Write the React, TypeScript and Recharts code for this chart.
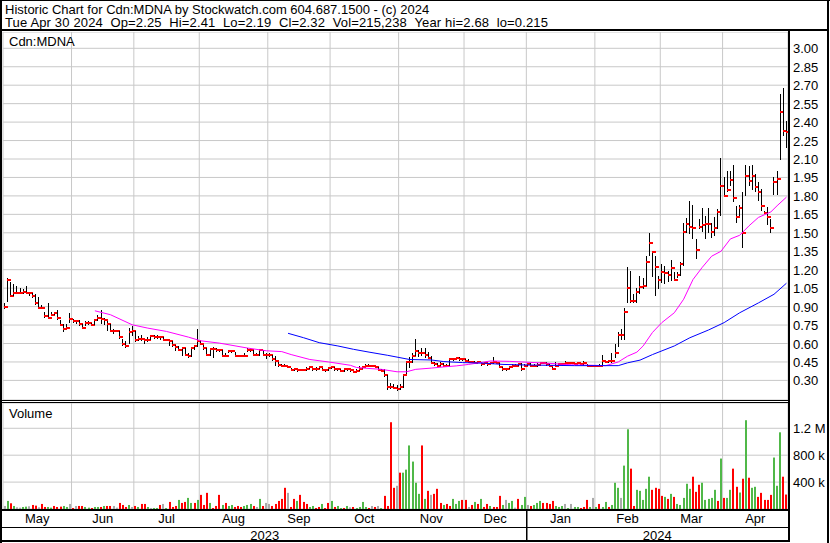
import React from 'react';
import { ComposedChart, Bar, Line, XAxis, YAxis, CartesianGrid } from 'recharts';

const FONT = "'Liberation Sans', Arial, Helvetica, sans-serif";

// ---------- categories / labels ----------
const monthNames = ['May', 'Jun', 'Jul', 'Aug', 'Sep', 'Oct', 'Nov', 'Dec', 'Jan', 'Feb', 'Mar', 'Apr'];
const monthDays = [22, 20, 21, 22, 20, 22, 21, 20, 22, 21, 20, 21];
const yearNames = ['2023', '2024'];
const yearMonthCounts = [8, 4];

const priceTicks = [0.3, 0.45, 0.6, 0.75, 0.9, 1.05, 1.2, 1.35, 1.5, 1.65, 1.8, 1.95, 2.1, 2.25, 2.4, 2.55, 2.7, 2.85, 3.0];
const volumeTicks = [400, 800, 1200];
const volumeTickLabels = ['400 k', '800 k', '1.2 M'];

// ---------- daily series (May 2023 .. Apr 2024) ----------
const closes = [
  0.90, 1.12, 0.99, 1.01, 1.01, 1.01, 1.02, 1.01, 1.01, 0.99, 0.93, 0.89, 0.89, 0.82, 0.81, 0.83, 0.85, 0.81, 0.75, 0.72, 0.73, 0.80,
  0.78, 0.78, 0.76, 0.73, 0.77, 0.77, 0.75, 0.79, 0.81, 0.80, 0.79, 0.76, 0.70, 0.70, 0.70, 0.655, 0.60, 0.58, 0.69, 0.70,
  0.63, 0.64, 0.64, 0.625, 0.63, 0.66, 0.655, 0.655, 0.655, 0.63, 0.63, 0.62, 0.59, 0.575, 0.545, 0.56, 0.51, 0.495, 0.56, 0.58, 0.62,
  0.60, 0.56, 0.51, 0.555, 0.555, 0.545, 0.545, 0.495, 0.50, 0.535, 0.535, 0.50, 0.50, 0.495, 0.495, 0.55, 0.55, 0.505, 0.505, 0.545, 0.51, 0.505,
  0.505, 0.47, 0.46, 0.425, 0.42, 0.42, 0.41, 0.385, 0.39, 0.385, 0.385, 0.385, 0.39, 0.405, 0.39, 0.39, 0.41, 0.385, 0.385, 0.40,
  0.405, 0.39, 0.39, 0.377, 0.39, 0.39, 0.385, 0.37, 0.377, 0.39, 0.405, 0.42, 0.42, 0.42, 0.41, 0.385, 0.38, 0.345, 0.25, 0.25, 0.24, 0.228,
  0.25, 0.34, 0.45, 0.45, 0.50, 0.54, 0.52, 0.52, 0.51, 0.485, 0.445, 0.43, 0.42, 0.435, 0.42, 0.42, 0.47, 0.475, 0.48, 0.475, 0.47,
  0.46, 0.45, 0.45, 0.445, 0.45, 0.43, 0.44, 0.43, 0.44, 0.45, 0.44, 0.405, 0.39, 0.39, 0.405, 0.42, 0.42, 0.43, 0.39, 0.42,
  0.43, 0.42, 0.42, 0.425, 0.443, 0.443, 0.435, 0.42, 0.394, 0.416, 0.43, 0.43, 0.443, 0.445, 0.445, 0.435, 0.44, 0.435, 0.445, 0.42, 0.416, 0.416,
  0.416, 0.42, 0.457, 0.45, 0.457, 0.457, 0.525, 0.666, 0.666, 0.856, 1.05, 0.946, 0.946, 1.02, 1.06, 1.07, 1.26, 1.416, 1.34, 1.22, 1.117,
  1.18, 1.17, 1.16, 1.21, 1.12, 1.16, 1.245, 1.51, 1.57, 1.55, 1.535, 1.36, 1.544, 1.56, 1.575, 1.57, 1.51, 1.54, 1.67, 1.88,
  1.80, 1.85, 1.93, 1.78, 1.63, 1.70, 1.50, 1.96, 1.92, 1.96, 1.87, 1.83, 1.72, 1.66, 1.63, 1.54, 1.91, 1.94, 2.48, 2.33, 2.32,
];

const highs = [
  0.93, 1.13, 1.10, 1.08, 1.07, 1.05, 1.04, 1.07, 1.02, 1.01, 1.00, 0.98, 0.91, 0.86, 0.93, 0.86, 0.86, 0.87, 0.79, 0.76, 0.76, 0.85,
  0.80, 0.79, 0.79, 0.76, 0.78, 0.78, 0.77, 0.80, 0.83, 0.87, 0.81, 0.78, 0.76, 0.72, 0.71, 0.70, 0.64, 0.62, 0.73, 0.74,
  0.70, 0.66, 0.67, 0.64, 0.65, 0.67, 0.67, 0.67, 0.66, 0.65, 0.64, 0.63, 0.62, 0.59, 0.58, 0.57, 0.56, 0.52, 0.57, 0.59, 0.715,
  0.62, 0.59, 0.56, 0.56, 0.57, 0.56, 0.55, 0.55, 0.52, 0.54, 0.55, 0.53, 0.51, 0.50, 0.52, 0.56, 0.56, 0.55, 0.52, 0.55, 0.55, 0.52,
  0.52, 0.51, 0.50, 0.45, 0.43, 0.43, 0.42, 0.40, 0.40, 0.39, 0.39, 0.39, 0.41, 0.42, 0.40, 0.41, 0.42, 0.40, 0.39, 0.41,
  0.41, 0.41, 0.40, 0.39, 0.40, 0.40, 0.39, 0.38, 0.39, 0.42, 0.42, 0.43, 0.43, 0.42, 0.42, 0.41, 0.39, 0.39, 0.34, 0.28, 0.27, 0.26,
  0.27, 0.35, 0.46, 0.49, 0.52, 0.635, 0.55, 0.56, 0.56, 0.53, 0.50, 0.45, 0.44, 0.45, 0.44, 0.43, 0.48, 0.48, 0.49, 0.49, 0.48,
  0.47, 0.47, 0.46, 0.46, 0.46, 0.45, 0.45, 0.44, 0.45, 0.49, 0.45, 0.44, 0.41, 0.40, 0.41, 0.43, 0.43, 0.44, 0.44, 0.43,
  0.44, 0.44, 0.43, 0.44, 0.45, 0.45, 0.45, 0.43, 0.41, 0.45, 0.44, 0.44, 0.46, 0.45, 0.45, 0.44, 0.45, 0.44, 0.46, 0.43, 0.42, 0.42,
  0.42, 0.43, 0.51, 0.46, 0.46, 0.52, 0.60, 0.69, 0.72, 0.89, 1.22, 1.19, 1.00, 1.05, 1.15, 1.13, 1.31, 1.50, 1.35, 1.31, 1.15,
  1.25, 1.23, 1.19, 1.28, 1.18, 1.18, 1.26, 1.58, 1.62, 1.76, 1.73, 1.45, 1.61, 1.70, 1.64, 1.70, 1.58, 1.63, 1.69, 2.11,
  1.95, 2.00, 2.00, 2.05, 1.72, 1.73, 1.83, 2.05, 2.04, 2.05, 1.98, 1.91, 1.86, 1.68, 1.71, 1.61, 1.95, 2.00, 2.63, 2.68, 2.41,
];

const lows = [
  0.88, 0.94, 0.98, 0.99, 1.00, 1.00, 1.00, 1.00, 0.99, 0.97, 0.91, 0.88, 0.88, 0.81, 0.80, 0.82, 0.83, 0.79, 0.74, 0.69, 0.72, 0.77,
  0.77, 0.76, 0.74, 0.72, 0.74, 0.75, 0.74, 0.75, 0.78, 0.76, 0.75, 0.70, 0.69, 0.68, 0.69, 0.64, 0.58, 0.56, 0.60, 0.66,
  0.61, 0.62, 0.62, 0.60, 0.61, 0.63, 0.64, 0.64, 0.63, 0.62, 0.62, 0.58, 0.57, 0.54, 0.54, 0.50, 0.50, 0.48, 0.49, 0.55, 0.57,
  0.59, 0.55, 0.50, 0.50, 0.48, 0.53, 0.53, 0.49, 0.49, 0.52, 0.52, 0.49, 0.49, 0.49, 0.49, 0.53, 0.53, 0.50, 0.50, 0.50, 0.50, 0.47,
  0.49, 0.46, 0.42, 0.41, 0.41, 0.41, 0.40, 0.38, 0.38, 0.37, 0.38, 0.38, 0.38, 0.39, 0.38, 0.38, 0.39, 0.38, 0.37, 0.38,
  0.39, 0.38, 0.38, 0.37, 0.37, 0.38, 0.37, 0.36, 0.37, 0.38, 0.39, 0.41, 0.41, 0.41, 0.40, 0.38, 0.37, 0.33, 0.22, 0.23, 0.23, 0.215,
  0.22, 0.24, 0.35, 0.40, 0.44, 0.50, 0.49, 0.50, 0.48, 0.47, 0.43, 0.42, 0.41, 0.42, 0.41, 0.41, 0.42, 0.46, 0.47, 0.46, 0.46,
  0.45, 0.44, 0.44, 0.44, 0.44, 0.42, 0.43, 0.42, 0.43, 0.43, 0.43, 0.40, 0.38, 0.38, 0.39, 0.41, 0.41, 0.42, 0.38, 0.41,
  0.42, 0.41, 0.41, 0.41, 0.43, 0.43, 0.42, 0.41, 0.39, 0.41, 0.42, 0.42, 0.43, 0.44, 0.44, 0.43, 0.43, 0.43, 0.42, 0.41, 0.41, 0.41,
  0.41, 0.41, 0.42, 0.44, 0.44, 0.44, 0.48, 0.57, 0.63, 0.63, 0.93, 0.93, 0.93, 0.93, 1.00, 1.04, 1.07, 1.31, 1.14, 0.99, 1.04,
  1.09, 1.08, 1.10, 1.11, 1.11, 1.13, 1.15, 1.23, 1.50, 1.49, 1.45, 1.29, 1.53, 1.51, 1.45, 1.50, 1.46, 1.47, 1.53, 1.64,
  1.79, 1.83, 1.88, 1.75, 1.58, 1.64, 1.38, 1.80, 1.88, 1.85, 1.83, 1.76, 1.68, 1.66, 1.56, 1.50, 1.81, 1.81, 2.09, 2.29, 2.19,
];

// volume in thousands of shares
const volumes = [
  45, 120, 85, 45, 25, 20, 30, 35, 40, 60, 50, 25, 75, 30, 30, 20, 45, 30, 35, 45, 30, 75,
  15, 45, 45, 45, 30, 20, 15, 30, 30, 30, 45, 45, 45, 45, 20, 90, 60, 30, 60, 30,
  45, 30, 75, 75, 30, 15, 15, 15, 60, 75, 15, 105, 30, 45, 135, 90, 105, 165, 90, 90, 135,
  210, 60, 240, 90, 15, 45, 210, 60, 90, 45, 60, 30, 45, 30, 45, 60, 75, 45, 30, 150, 45, 90,
  75, 45, 75, 120, 150, 315, 240, 30, 150, 120, 210, 105, 75, 30, 45, 15, 30, 75, 15, 90,
  120, 30, 45, 15, 15, 45, 25, 30, 15, 30, 105, 30, 15, 45, 30, 45, 15, 195, 45, 1290, 315, 345,
  540, 540, 585, 945, 705, 390, 225, 945, 150, 270, 210, 225, 300, 90, 60, 75, 45, 150, 75, 120, 135,
  135, 30, 60, 105, 75, 150, 30, 75, 45, 30, 30, 195, 60, 135, 90, 120, 20, 150, 60, 180,
  60, 45, 60, 90, 120, 90, 90, 75, 120, 45, 30, 45, 75, 15, 75, 30, 30, 15, 30, 135, 30, 165,
  30, 75, 30, 105, 30, 60, 390, 315, 165, 645, 1185, 600, 45, 285, 270, 135, 300, 480, 285, 315, 300,
  195, 180, 150, 225, 180, 75, 60, 165, 375, 300, 480, 255, 360, 390, 135, 150, 165, 285, 120, 750,
  165, 165, 285, 600, 330, 245, 450, 1320, 465, 315, 330, 180, 240, 135, 135, 210, 765, 345, 1140, 480, 215,
];

// volume colour per day: g = up, r = down, n = unchanged
const volumeDirByMonth = [
  'ngrgnnggnrrnrrggrrrggn',
  'rnrrggrggrgrrnnrrrgn',
  'rgrrgnggrngrrrgrrggrg',
  'rrrgrrrgrggrrrgggrngrn',
  'nrrrrrnrrgrrrggrrgrr',
  'grggrgnrggggrnrngrrrrn',
  'rggggggrgrnrrrgrrgggr',
  'rnrgrgrrgrrrgnggnrgg',
  'nrgggrrrrgggngnggrrrgn',
  'grggrgggnggrrgggggrrr',
  'rgrgrgggggrrrgggggrg',
  'rggrrgrgrggrrrrrgggrr',
];

// moving averages: [day index, value]
const magentaPoints = [
  [29, 0.866], [34, 0.834], [41, 0.752], [46, 0.725], [52, 0.698], [59, 0.652], [63, 0.622], [69, 0.603],
  [78, 0.563], [84, 0.541], [89, 0.534], [92, 0.51], [98, 0.47], [104, 0.45], [111, 0.423], [113, 0.405],
  [117, 0.397], [121, 0.39], [126, 0.37], [129, 0.37], [132, 0.39], [137, 0.40], [141, 0.41], [145, 0.418],
  [149, 0.43], [154, 0.45], [156, 0.458], [162, 0.455], [166, 0.45], [174, 0.44], [182, 0.427], [193, 0.42],
  [197, 0.45], [200, 0.497], [203, 0.53], [205, 0.58], [208, 0.69], [211, 0.77], [215, 0.85], [218, 0.96],
  [221, 1.12], [224, 1.22], [227, 1.31], [230, 1.35], [233, 1.45], [236, 1.48], [239, 1.557], [242, 1.625],
  [246, 1.67], [248, 1.72], [251, 1.79],
];
const bluePoints = [
  [91, 0.683], [96, 0.647], [101, 0.607], [107, 0.58], [112, 0.553], [117, 0.53], [123, 0.504], [130, 0.47],
  [137, 0.466], [141, 0.453], [147, 0.445], [154, 0.44], [160, 0.43], [166, 0.426], [174, 0.423], [183, 0.42],
  [197, 0.42], [200, 0.443], [204, 0.465], [208, 0.51], [215, 0.58], [220, 0.647], [226, 0.71], [231, 0.77],
  [236, 0.85], [242, 0.93], [247, 1.0], [251, 1.09],
];

// ---------- derived tables ----------
const totalDays = closes.length;
const monthStarts: number[] = [];
monthDays.forEach((d, i) => monthStarts.push(i === 0 ? 0 : monthStarts[i - 1] + monthDays[i - 1]));
const monthMids = monthStarts.map((s, i) => s + monthDays[i] / 2);
const gridStarts = monthStarts.slice(1);
const yearStarts: number[] = [];
const yearEnds: number[] = [];
let mIdx = 0;
yearMonthCounts.forEach((cnt) => {
  yearStarts.push(monthStarts[mIdx]);
  const last = mIdx + cnt - 1;
  yearEnds.push(monthStarts[last] + monthDays[last]);
  mIdx += cnt;
});
const yearMids = yearStarts.map((s, i) => (s + yearEnds[i]) / 2);
const yearDividers = yearStarts.slice(1);
const yearAxisTicks = [...yearMids, ...yearDividers].sort((a, b) => a - b);

const volumeDirs = volumeDirByMonth.join('');
const magentaMap = new Map<number, number>(magentaPoints.map((p) => [p[0], p[1]] as [number, number]));
const blueMap = new Map<number, number>(bluePoints.map((p) => [p[0], p[1]] as [number, number]));

const rows = closes.map((c, i) => ({
  x: i + 0.5,
  range: [lows[i], highs[i]],
  close: c,
  high: highs[i],
  low: lows[i],
  vol: volumes[i],
  dir: volumeDirs[i] || 'n',
  ma1: magentaMap.has(i) ? magentaMap.get(i) : null,
  ma2: blueMap.has(i) ? blueMap.get(i) : null,
}));

const RED = '#FF0000';
const GREEN = '#50B848';
const GRAY = '#AAAAAA';
const GRID = '#C8C8C8';

// ---------- shapes & ticks ----------
const OhlcShape = (props: any) => {
  const { x, y, width, height, payload } = props;
  if (x == null || y == null || !payload) return null;
  const cx = Math.floor(x + width / 2);
  const top = Math.min(y, y + height);
  const bottom = Math.max(y, y + height);
  const h = payload.high;
  const l = payload.low;
  const c = payload.close;
  const cy = h === l ? top : top + ((h - c) / (h - l)) * (bottom - top);
  const t = Math.round(top);
  const b = Math.round(bottom);
  return (
    <g>
      <rect x={cx} y={t} width={1} height={Math.max(1, b - t)} fill="#000" />
      <rect x={cx} y={Math.round(cy) - 1} width={4} height={2} fill={RED} />
    </g>
  );
};

const VolShape = (props: any) => {
  const { x, y, width, height, payload } = props;
  if (x == null || y == null || !payload) return null;
  const cx = Math.floor(x + width / 2);
  const fill = payload.dir === 'g' ? GREEN : payload.dir === 'r' ? RED : GRAY;
  return <rect x={cx - 1} y={y} width={2} height={Math.max(0, height)} fill={fill} />;
};

const PriceTick = (props: any) => {
  const { x, y, payload } = props;
  return (
    <text x={x} y={y} dy={5} fontSize={13} fontFamily={FONT} fill="#000" textAnchor="start">
      {Number(payload.value).toFixed(2)}
    </text>
  );
};

const VolTick = (props: any) => {
  const { x, y, payload } = props;
  const idx = volumeTicks.indexOf(payload.value);
  return (
    <text x={x} y={y} dy={5} fontSize={13} fontFamily={FONT} fill="#000" textAnchor="start">
      {idx >= 0 ? volumeTickLabels[idx] : ''}
    </text>
  );
};

const MonthTick = (props: any) => {
  const { x, y, payload } = props;
  const idx = monthMids.indexOf(payload.value);
  return (
    <text x={x} y={y + 14} fontSize={13} fontFamily={FONT} fill="#000" textAnchor="middle">
      {idx >= 0 ? monthNames[idx] : ''}
    </text>
  );
};

const YearTick = (props: any) => {
  const { x, y, payload } = props;
  if (yearDividers.includes(payload.value)) {
    return <rect x={Math.round(x)} y={y - 18} width={1.5} height={32} fill="#000" />;
  }
  const idx = yearMids.indexOf(payload.value);
  return (
    <text x={x} y={y + 12.5} fontSize={13} fontFamily={FONT} fill="#000" textAnchor="middle">
      {idx >= 0 ? yearNames[idx] : ''}
    </text>
  );
};

const NB = '\u00A0';
const header1 = 'Historic Chart for Cdn:MDNA by Stockwatch.com 604.687.1500 - (c) 2024';
const header2 = ['Tue Apr 30 2024', 'Op=2.25', 'Hi=2.41', 'Lo=2.19', 'Cl=2.32', 'Vol=215,238', 'Year hi=2.68', 'lo=0.215'].join(' ' + NB);

export default function App() {
  return (
    <div
      style={{
        position: 'absolute',
        left: 0,
        top: 0,
        width: 830,
        height: 543,
        background: '#fff',
        overflow: 'hidden',
        fontFamily: FONT,
      }}
    >
      <div style={{ position: 'absolute', left: 0, top: 32 }}>
        <ComposedChart width={830} height={368} data={rows} margin={{ top: 0, right: 0, bottom: 0, left: 3 }}>
          <CartesianGrid stroke={GRID} fill="none" />
          <XAxis type="number" dataKey="x" orientation="top" height={0} domain={[0, totalDays]} ticks={gridStarts} interval={0} hide allowDataOverflow />
          <YAxis
            orientation="right"
            type="number"
            width={42}
            domain={[0.1407, 3.1325]}
            ticks={priceTicks}
            interval={0}
            tickLine={false}
            axisLine={false}
            tickSize={0}
            tickMargin={5}
            tick={(p: any) => <PriceTick {...p} />}
            allowDataOverflow
          />
          <Bar dataKey="range" barSize={3} shape={(p: any) => <OhlcShape {...p} />} isAnimationActive={false} />
          <Line
            type="linear"
            dataKey="ma1"
            stroke="#FF00FF"
            strokeWidth={1}
            dot={false}
            activeDot={false}
            connectNulls
            isAnimationActive={false}
          />
          <Line
            type="linear"
            dataKey="ma2"
            stroke="#0000FF"
            strokeWidth={1}
            dot={false}
            activeDot={false}
            connectNulls
            isAnimationActive={false}
          />
        </ComposedChart>
      </div>

      <div style={{ position: 'absolute', left: 0, top: 403 }}>
        <ComposedChart width={830} height={138} data={rows} margin={{ top: 0, right: 0, bottom: 0, left: 3 }}>
          <CartesianGrid stroke={GRID} fill="none" />
          <XAxis type="number" dataKey="x" orientation="top" height={0} domain={[0, totalDays]} ticks={gridStarts} interval={0} hide allowDataOverflow />
          <XAxis
            xAxisId="months"
            type="number"
            dataKey="x"
            domain={[0, totalDays]}
            ticks={monthMids}
            interval={0}
            height={18}
            tickLine={false}
            axisLine={false}
            tickSize={0}
            tickMargin={0}
            tick={(p: any) => <MonthTick {...p} />}
            allowDataOverflow
          />
          <XAxis
            xAxisId="years"
            type="number"
            dataKey="x"
            domain={[0, totalDays]}
            ticks={yearAxisTicks}
            interval={0}
            height={14}
            tickLine={false}
            axisLine={false}
            tickSize={0}
            tickMargin={0}
            tick={(p: any) => <YearTick {...p} />}
            allowDataOverflow
          />
          <YAxis
            orientation="right"
            type="number"
            width={42}
            domain={[0, 1576]}
            ticks={volumeTicks}
            interval={0}
            tickLine={false}
            axisLine={false}
            tickSize={0}
            tickMargin={5}
            tick={(p: any) => <VolTick {...p} />}
            allowDataOverflow
          />
          <Bar dataKey="vol" barSize={2} shape={(p: any) => <VolShape {...p} />} isAnimationActive={false} />
        </ComposedChart>
      </div>

      <svg
        width={830}
        height={543}
        style={{ position: 'absolute', left: 0, top: 0, pointerEvents: 'none' }}
      >
        <text x={5} y={14} fontSize={13} fontFamily={FONT} fill="#000">
          {header1}
        </text>
        <text x={5} y={27} fontSize={13} fontFamily={FONT} fill="#000" style={{ letterSpacing: '0.15px' }}>
          {header2}
        </text>
        <text x={9} y={46} fontSize={13} fontFamily={FONT} fill="#000">Cdn:MDNA</text>
        <text x={9} y={418} fontSize={13} fontFamily={FONT} fill="#000">Volume</text>
        {/* frame */}
        <rect x={0} y={0} width={830} height={1} fill="#000" />
        <rect x={0} y={0} width={2} height={543} fill="#000" />
        <rect x={827} y={0} width={2} height={543} fill="#000" />
        <rect x={0} y={540} width={790} height={2} fill="#000" />
        <rect x={0} y={29} width={829} height={2} fill="#000" />
        <rect x={788} y={29} width={2} height={513} fill="#000" />
        <rect x={0} y={400} width={790} height={1} fill="#000" />
        <rect x={0} y={402} width={790} height={1} fill="#000" />
        <rect x={0} y={509} width={790} height={2} fill="#000" />
        <rect x={0} y={527} width={790} height={1} fill="#000" />
      </svg>
    </div>
  );
}
